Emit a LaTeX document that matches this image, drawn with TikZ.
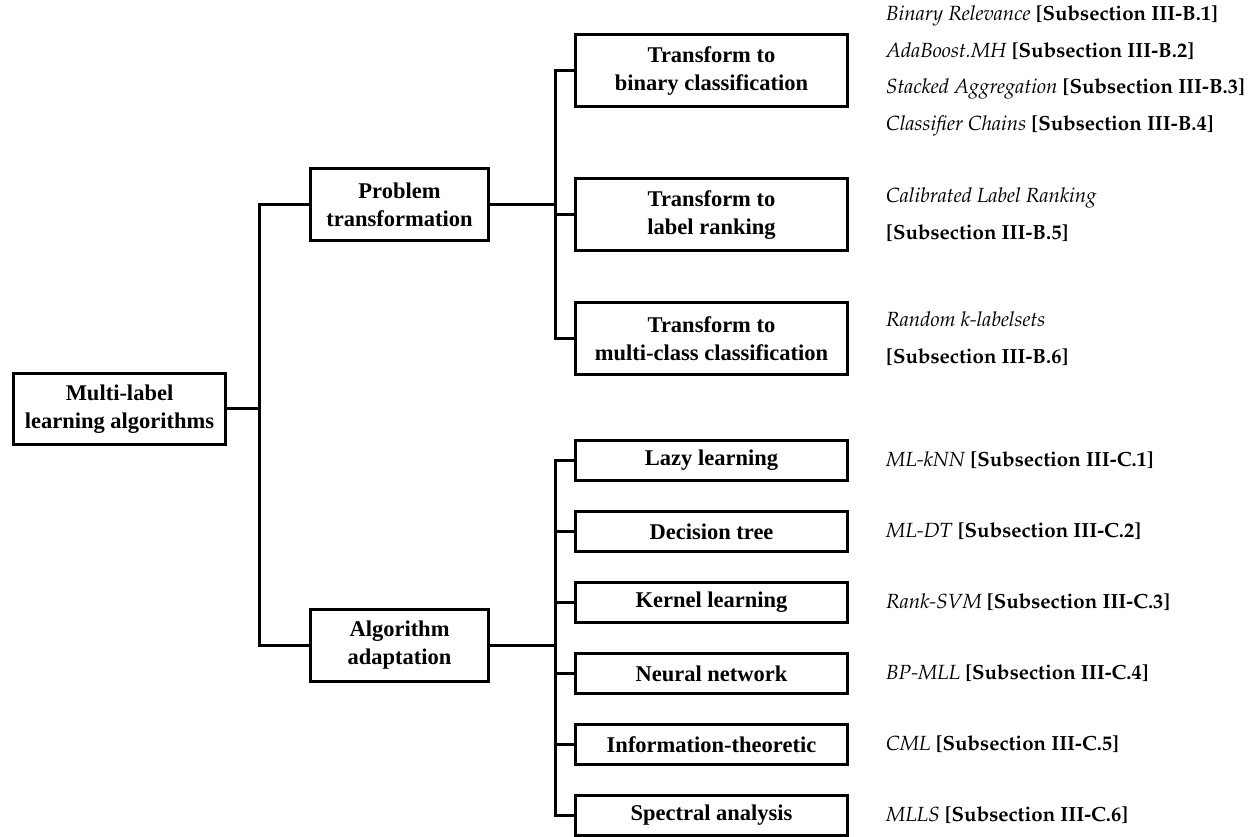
\documentclass[tikz,border=0pt]{standalone}
\usepackage[T1]{fontenc}
\usepackage{fontspec}
\setmainfont{Liberation Serif}
\usetikzlibrary{trees,positioning}
\newcommand\palfont{\fontencoding{T1}\fontfamily{ppl}\selectfont}

\begin{document}
\begin{tikzpicture}[x=1pt,y=1pt,grow'=right,edge from parent fork right,
    box/.style={draw,line width=3pt,align=center,inner sep=0pt,
      font=\bfseries\fontsize{22.5}{28}\selectfont},
    rootbox/.style={box,minimum width=212pt,minimum height=71pt},
    midbox/.style={box,minimum width=178pt,minimum height=72pt},
    tbox/.style={box,minimum width=272pt,minimum height=72pt},
    abox/.style={box,minimum width=272pt,minimum height=40pt,yshift=7pt},
    tgroup/.style={sibling distance=134pt},
    lbl/.style={align=left,inner sep=0pt,anchor=west,
      font=\palfont\fontsize{20.5}{36.7}\selectfont},
    edge from parent/.style={draw,line width=3pt},
    level 1/.style={level distance=280pt,sibling distance=440pt,
      every child node/.style={yshift=-16pt}},
    level 2/.style={level distance=312pt,sibling distance=71pt,
      every child node/.style={}}]
    \useasboundingbox (-119.5,-428) rectangle (1135.5,409);
    \node [rootbox] (mla) {Multi-label\\learning algorithms}
      child {node [midbox] (pt) {Problem\\transformation}
          child [tgroup] {node [tbox] (bin) {Transform to\\binary classification}}
          child [tgroup] {node [tbox,yshift=-10pt] (rank) {Transform to\\label ranking}}
          child [tgroup] {node [tbox] (mcc) {Transform to\\multi-class classification}}
      }
      child {node [midbox] (aa) {Algorithm\\adaptation}
          child {node [abox] (lazy) {Lazy learning}}
          child {node [abox] (dtree) {Decision tree}}
          child {node [abox] (kern) {Kernel learning}}
          child {node [abox] (nnet) {Neural network}}
          child {node [abox] (info) {Information-theoretic}}
          child {node [abox] (spec) {Spectral analysis}}
      };
    % methods next to each box
    \node [lbl,right=37pt of bin] (binl) {\textit{Binary Relevance} \textbf{[Subsection III-B.1]}\\
      \textit{AdaBoost.MH} \textbf{[Subsection III-B.2]}\\
      \textit{Stacked Aggregation} \textbf{[Subsection III-B.3]}\\
      \textit{Classifier Chains} \textbf{[Subsection III-B.4]}};
    \node [lbl,right=37pt of rank] (rankl) {\textit{Calibrated Label Ranking}\\\textbf{[Subsection III-B.5]}};
    \node [lbl,right=37pt of mcc] (mccl) {\textit{Random k-labelsets}\\\textbf{[Subsection III-B.6]}};
    \node [lbl,right=37pt of lazy] (lazyl) {\textit{ML-kNN} \textbf{[Subsection III-C.1]}};
    \node [lbl,right=37pt of dtree] (dtreel) {\textit{ML-DT} \textbf{[Subsection III-C.2]}};
    \node [lbl,right=37pt of kern] (kernl) {\textit{Rank-SVM} \textbf{[Subsection III-C.3]}};
    \node [lbl,right=37pt of nnet] (nnetl) {\textit{BP-MLL} \textbf{[Subsection III-C.4]}};
    \node [lbl,right=37pt of info] (infol) {\textit{CML} \textbf{[Subsection III-C.5]}};
    \node [lbl,right=37pt of spec] (specl) {\textit{MLLS} \textbf{[Subsection III-C.6]}};
\end{tikzpicture}
\end{document}
